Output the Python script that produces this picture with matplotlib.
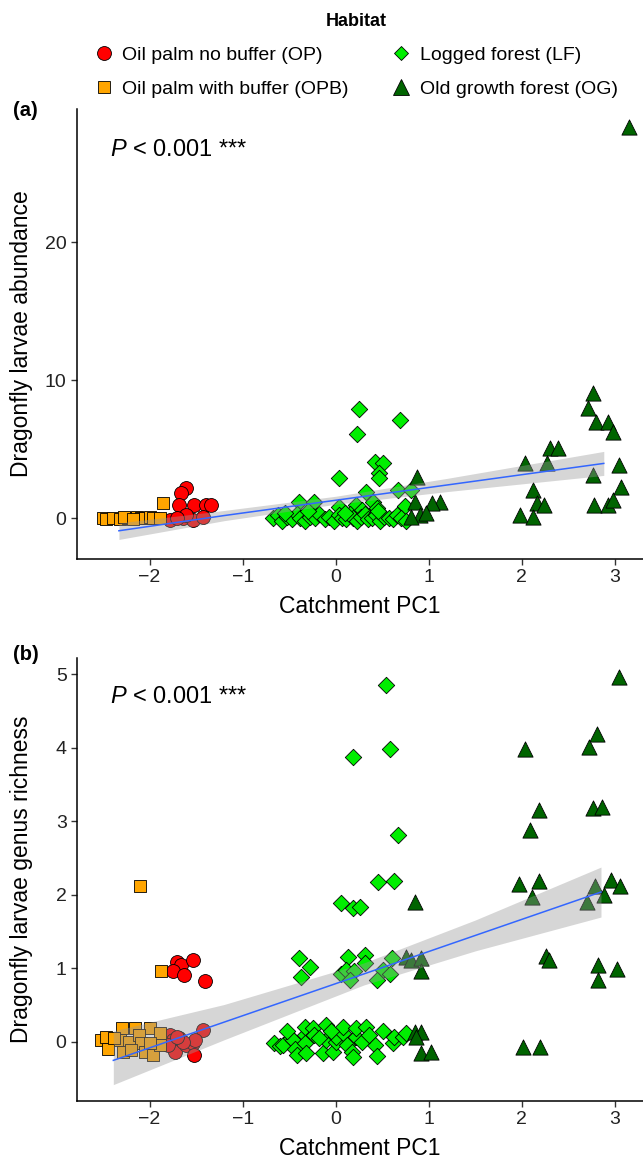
import matplotlib
matplotlib.use("Agg")
import matplotlib.pyplot as plt
from matplotlib.lines import Line2D

plt.rcParams['font.family'] = ['Liberation Sans', 'DejaVu Sans']
plt.rcParams['mathtext.fontset'] = 'custom'
plt.rcParams['mathtext.rm'] = 'Liberation Sans'
plt.rcParams['mathtext.it'] = 'Liberation Sans:italic'

# ---- legend / habitat info
habitats = ['Oil palm no buffer (OP)', 'Oil palm with buffer (OPB)',
            'Logged forest (LF)', 'Old growth forest (OG)']

# ---- panel (a): abundance
op_a_x = [-1.61, -1.66, -1.68, -1.52, -1.39, -1.34, -1.78, -1.64, -1.53, -1.43, -1.61, -1.71]
op_a_y = [2.15, 1.79, 0.94, 0.94, 0.94, 0.94, -0.14, 0.0, -0.14, 0.1, 0.22, 0.0]

opb_a_x = [-2.50, -2.47, -2.39, -2.32, -2.23, -2.14, -2.09, -2.05, -2.0, -1.96, -1.89, -1.86, -2.28, -2.18]
opb_a_y = [0.0, -0.1, 0.0, -0.1, 0.0, 0.1, 0.0, 0.0, 0.1, 0.0, 0.0, 1.06, 0.05, -0.05]

lf_a_x = [0.25, 0.23, 0.69, 0.04, 0.42, 0.51, 0.47, 0.47, 0.32, 0.67, 0.81, 0.74,
          -0.39, -0.23, 0.04, 0.22, 0.40, 0.28, 0.44,
          -0.67, -0.62, -0.58, -0.52, -0.47, -0.42, -0.38, -0.33, -0.28, -0.22, -0.18, -0.12,
          -0.07, -0.02, 0.03, 0.07, 0.11, 0.15, 0.19, 0.23, 0.27, 0.31, 0.35, 0.39, 0.43,
          0.48, 0.52, 0.57, 0.62, 0.66, 0.70, 0.75, -0.55, -0.30, 0.10, 0.45]
lf_a_y = [7.88, 6.06, 7.1, 2.87, 4.08, 3.96, 3.24, 2.88, 1.9, 2.03, 2.03, 0.85,
          1.18, 1.18, 0.82, 0.94, 1.18, 0.58, 0.7,
          0.0, 0.2, -0.2, 0.1, -0.1, 0.3, 0.0, -0.2, 0.1, 0.0, 0.3, -0.1,
          0.1, -0.2, 0.2, 0.0, -0.1, 0.3, 0.0, -0.2, 0.1, 0.3, -0.1, 0.0, 0.2,
          -0.2, 0.1, 0.0, -0.1, 0.2, 0.0, -0.2, 0.4, 0.5, 0.4, 0.5]

og_a_x = [2.76, 2.71, 2.80, 2.93, 2.98, 2.30, 2.39, 2.03, 2.27, 2.76, 3.04, 3.07, 2.12, 2.16,
          2.24, 1.98, 2.12, 2.77, 2.93, 2.98, 0.87, 0.85, 1.12, 1.03, 0.90, 0.81, 0.97, 3.15]
og_a_y = [9.04, 7.95, 6.98, 6.98, 6.26, 5.05, 5.05, 3.96, 3.96, 3.12, 3.84, 2.27, 2.03, 1.06,
          0.94, 0.22, 0.1, 0.94, 0.94, 1.3, 2.99, 1.18, 1.18, 1.06, 0.22, 0.1, 0.34, 28.3]

# lm fit (a): x, fitted value, lower, upper
fit_a_x = [-2.33, -1.2, 0.0, 1.2, 2.88]
fit_a_y = [-0.92, 0.18, 1.29, 2.40, 3.96]
fit_a_lo = [-1.55, -0.19, 1.00, 1.92, 3.09]
fit_a_hi = [-0.35, 0.55, 1.58, 2.88, 4.83]

# ---- panel (b): genus richness
op_b_x = [-1.71, -1.66, -1.75, -1.63, -1.53, -1.41, -1.78, -1.75, -1.68, -1.73, -1.80, -1.61,
          -1.53, -1.52, -1.43, -1.51, -1.64, -1.71]
op_b_y = [1.09, 1.05, 0.97, 0.91, 1.12, 0.83, 0.1, 0.03, 0.05, -0.13, -0.04, -0.04,
          -0.02, -0.18, 0.16, 0.03, 0.0, 0.07]

opb_b_x = [-2.10, -1.88, -2.52, -2.47, -2.45, -2.30, -2.16, -2.0, -2.32, -2.22, -2.11, -2.09,
           -2.29, -2.20, -2.05, -1.96, -1.89, -1.89, -2.0, -2.38]
opb_b_y = [2.12, 0.96, 0.03, 0.07, -0.09, 0.19, 0.19, 0.19, 0.03, 0.0, 0.1, -0.02,
           -0.13, -0.11, -0.13, -0.18, 0.12, -0.04, -0.02, 0.05]

lf_b_x = [0.54, 0.58, 0.19, 0.67, 0.45, 0.63, 0.06, 0.18, 0.26,
          -0.39, -0.28, -0.37, 0.13, 0.31, 0.31, 0.06, 0.11, 0.20, 0.15, 0.60, 0.51, 0.58, 0.44,
          -0.66, -0.60, -0.57, -0.48, -0.46, -0.44, -0.42, -0.33, -0.33, -0.33, -0.32, -0.24,
          -0.23, -0.14, -0.10, -0.10, -0.03, 0.0, 0.0, 0.08, 0.08, 0.12, 0.17, 0.19, 0.22, 0.22,
          0.33, 0.42, 0.44, 0.51, 0.62, 0.63, 0.72, 0.76, -0.18, -0.05, 0.28, 0.36, -0.52]
lf_b_y = [4.86, 3.98, 3.88, 2.82, 2.17, 2.19, 1.89, 1.82, 1.84,
          1.14, 1.02, 0.89, 1.16, 1.18, 1.07, 0.93, 0.98, 0.96, 0.84, 1.14, 0.98, 0.93, 0.84,
          -0.02, -0.06, -0.04, 0.05, 0.03, -0.09, -0.18, 0.1, 0.21, -0.02, -0.15, 0.19,
          0.1, -0.15, 0.03, 0.23, -0.13, 0.0, 0.07, 0.12, 0.21, -0.04, -0.13, -0.2, 0.07, 0.19,
          0.21, -0.04, -0.19, 0.15, -0.02, 0.07, 0.07, 0.12, 0.05, 0.15, 0.0, 0.1, 0.15]

og_b_x = [3.04, 2.81, 2.72, 2.03, 2.18, 2.09, 2.76, 2.86, 1.97, 2.18, 2.11, 2.79, 2.70, 2.88,
          2.96, 3.05, 2.26, 2.29, 2.82, 2.82, 3.02, 2.01, 2.19,
          0.85, 0.75, 0.81, 0.92, 0.92, 0.85, 0.92, 0.86, 0.92, 1.02]
og_b_y = [4.97, 4.19, 4.02, 3.98, 3.16, 2.89, 3.18, 3.2, 2.15, 2.19, 1.97, 2.12, 1.9, 2.0,
          2.21, 2.12, 1.17, 1.12, 1.05, 0.85, 0.99, -0.07, -0.07,
          1.91, 1.16, 1.12, 1.14, 0.96, 0.14, 0.14, 0.07, -0.15, -0.13]

fit_b_x = [-2.39, -1.2, 0.3, 1.5, 2.85]
fit_b_y = [-0.25, 0.27, 0.925, 1.45, 2.04]
fit_b_lo = [-0.58, 0.03, 0.775, 1.24, 1.70]
fit_b_hi = [0.15, 0.51, 1.075, 1.66, 2.38]

# marker styles per habitat: (marker, face, size)
styles = [('o', '#FF0000', 100), ('s', '#FFA500', 75), ('D', '#00EE00', 70), ('^', '#006400', 120)]

fig = plt.figure(figsize=(6.43, 11.63), dpi=100)
ax_a = fig.add_axes([0.1198, 0.5193, 0.880, 0.387])
ax_b = fig.add_axes([0.1198, 0.0533, 0.880, 0.3809])

def draw_panel(ax, groups, fx, fy, flo, fhi):
    for (xs, ys), (m, c, s) in zip(groups, styles):
        ax.scatter(xs, ys, marker=m, s=s, c=c, edgecolors='black', linewidths=0.6, zorder=2)
    ax.fill_between(fx, flo, fhi, color='#999999', alpha=0.4, linewidth=0, zorder=3)
    ax.plot(fx, fy, color='#3366FF', linewidth=1.1, zorder=4)
    ax.set_xlim(-2.78, 3.30)
    ax.set_xticks([-2, -1, 0, 1, 2, 3])
    for side in ['top', 'right']:
        ax.spines[side].set_visible(False)
    for side in ['left', 'bottom']:
        ax.spines[side].set_linewidth(1.1)
    ax.tick_params(direction='out', length=4, width=1, labelsize=14, labelcolor='#222222', color='#333333')
    ax.set_xlabel('Catchment PC1', fontsize=16.5, labelpad=6)
    ax.yaxis.set_label_coords(-0.077, 0.5)

draw_panel(ax_a, [(op_a_x, op_a_y), (opb_a_x, opb_a_y), (lf_a_x, lf_a_y), (og_a_x, og_a_y)],
           fit_a_x, fit_a_y, fit_a_lo, fit_a_hi)
ax_a.set_ylim(-2.97, 29.64)
ax_a.set_yticks([0, 10, 20])
ax_a.set_ylabel('Dragonfly larvae abundance', fontsize=16.5)
ax_a.text(0.058, 0.909, r'$\it{P}$ < 0.001 ***', transform=ax_a.transAxes, fontsize=17, va='center')

draw_panel(ax_b, [(op_b_x, op_b_y), (opb_b_x, opb_b_y), (lf_b_x, lf_b_y), (og_b_x, og_b_y)],
           fit_b_x, fit_b_y, fit_b_lo, fit_b_hi)
ax_b.set_ylim(-0.803, 5.224)
ax_b.set_yticks([0, 1, 2, 3, 4, 5])
ax_b.set_ylabel('Dragonfly larvae genus richness', fontsize=16.5)
ax_b.text(0.058, 0.912, r'$\it{P}$ < 0.001 ***', transform=ax_b.transAxes, fontsize=17, va='center')

fig.text(0.02, 1 - 110 / 1163, '(a)', fontsize=14.5, fontweight='bold', va='center')
fig.text(0.02, 1 - 655 / 1163, '(b)', fontsize=14.5, fontweight='bold', va='center')

handles = [Line2D([], [], linestyle='none', marker=m, markerfacecolor=c, markeredgecolor='black',
                  markeredgewidth=0.6, markersize=s ** 0.5 * (0.85 if m == 'D' else 1.0))
           for m, c, s in styles]
leg = fig.legend(handles, habitats, ncol=2, frameon=False, loc='upper left',
                 bbox_to_anchor=(0.120, 1.004), fontsize=14, title='Habitat',
                 title_fontproperties={'weight': 'bold', 'size': 13},
                 handlelength=1.0, handletextpad=0.43, columnspacing=2.2, labelspacing=0.85)

fig.savefig('out.png', dpi=100)
